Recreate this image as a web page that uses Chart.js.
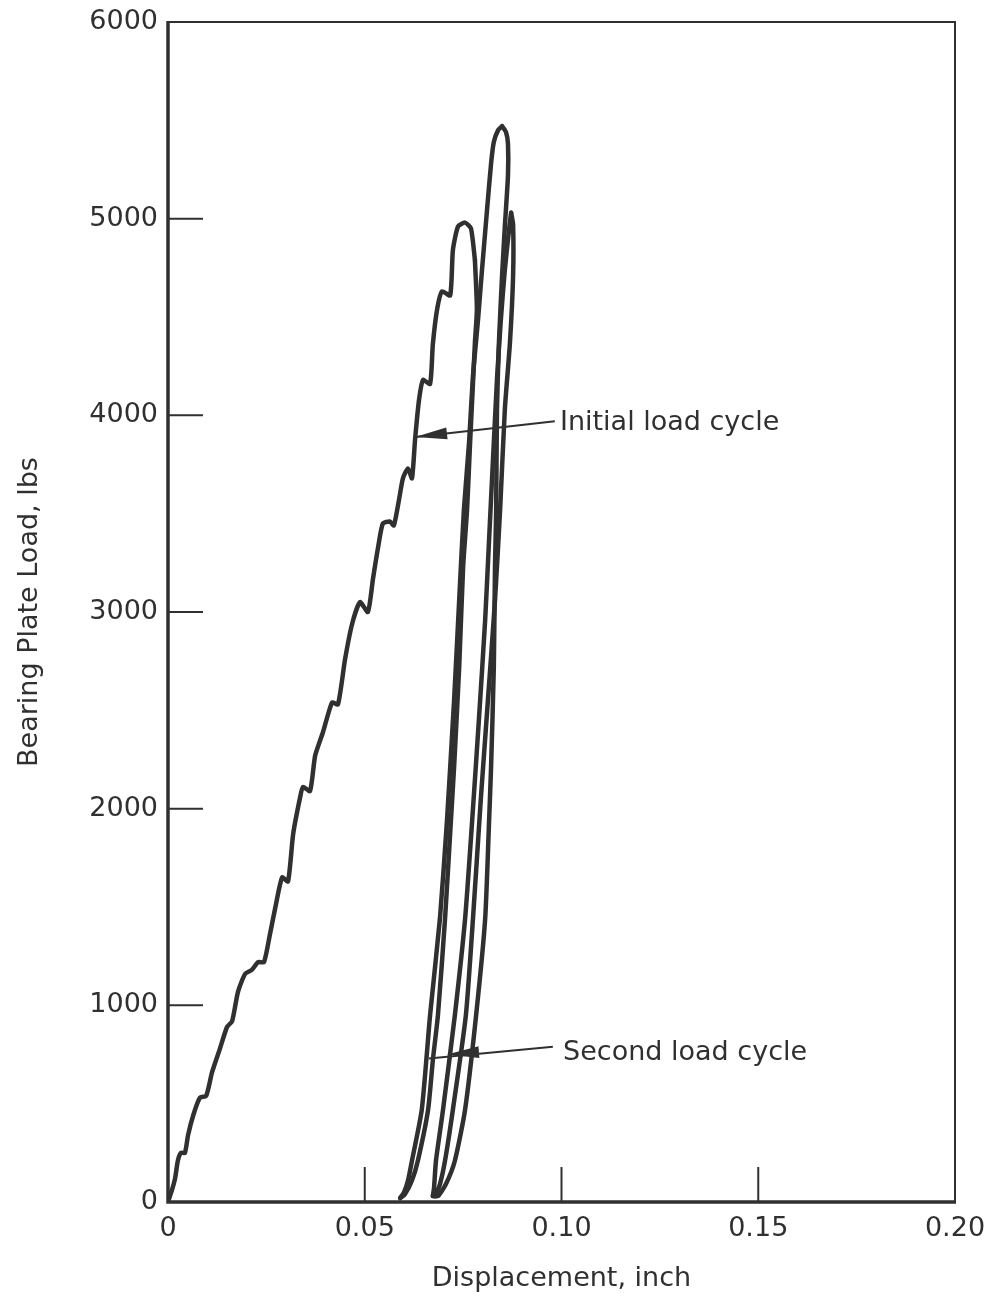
<!DOCTYPE html>
<html>
<head>
<meta charset="utf-8">
<script src="https://cdn.jsdelivr.net/npm/chart.js@4"></script>
<style>
  html, body { margin: 0; padding: 0; background: #ffffff; }
  canvas { display: block; }
</style>
</head>
<body>
<canvas id="c" width="992" height="1300"></canvas>
<script>
// ---------------- data (displacement in inch, load in lbs) ----------------
const xTickLabels = ['0', '0.05', '0.10', '0.15', '0.20'];
const yTickLabels = ['0', '1000', '2000', '3000', '4000', '5000', '6000'];

// Initial load cycle: loading branch (stepwise) up to first peak, then unloading
const load1X = [0, 0.0010, 0.0018, 0.0025, 0.0033, 0.0043, 0.0051, 0.0064, 0.0081, 0.0097, 0.0112, 0.0132, 0.0150, 0.0163, 0.0178, 0.0196, 0.0213, 0.0229, 0.0244, 0.0259, 0.0274, 0.0290, 0.0305, 0.0318, 0.0335, 0.0343, 0.0361, 0.0374, 0.0394, 0.0417, 0.0432, 0.0450, 0.0468, 0.0488, 0.0508, 0.0521, 0.0534, 0.0546, 0.0564, 0.0574, 0.0587, 0.0597, 0.0610, 0.0620, 0.0628, 0.0638, 0.0648, 0.0666, 0.0673, 0.0684, 0.0696, 0.0717, 0.0724, 0.0737, 0.0755, 0.0770, 0.0780];
const load1Y = [0, 60, 120, 210, 250, 250, 340, 440, 530, 540, 660, 780, 890, 920, 1070, 1160, 1180, 1220, 1220, 1360, 1510, 1650, 1630, 1870, 2050, 2110, 2090, 2270, 2390, 2540, 2530, 2760, 2940, 3050, 3000, 3170, 3330, 3450, 3460, 3440, 3570, 3680, 3730, 3680, 3880, 4080, 4180, 4160, 4360, 4540, 4630, 4610, 4840, 4960, 4980, 4950, 4790];
const unload1X = [0.0780, 0.0785, 0.0780, 0.0773, 0.0767, 0.0760, 0.0750, 0.0740, 0.0727, 0.0719, 0.0704, 0.0686, 0.0673, 0.0661, 0.0635, 0.0620, 0.0602, 0.0590];
const unload1Y = [4790, 4540, 4370, 4080, 3830, 3520, 3230, 2720, 2210, 1940, 1440, 950, 720, 470, 210, 110, 40, 20];

// Second load cycle: reloading to the highest peak, unloading, reloading again
const reload2X = [0.0590, 0.0600, 0.0610, 0.0620, 0.0645, 0.0666, 0.0691, 0.0709, 0.0727, 0.0740, 0.0752, 0.0765, 0.0775, 0.0788, 0.0798, 0.0811, 0.0821, 0.0828, 0.0839, 0.0849];
const reload2Y = [20, 50, 110, 210, 470, 950, 1440, 1940, 2550, 3060, 3520, 3860, 4200, 4490, 4740, 5050, 5280, 5390, 5450, 5470];
const unload2X = [0.0849, 0.0859, 0.0864, 0.0864, 0.0856, 0.0849, 0.0841, 0.0836, 0.0834, 0.0831, 0.0828, 0.0821, 0.0816, 0.0806, 0.0783, 0.0755, 0.0729, 0.0706, 0.0686, 0.0673];
const unload2Y = [5470, 5440, 5380, 5220, 4960, 4710, 4370, 4030, 3520, 3230, 2720, 2210, 1940, 1440, 950, 470, 210, 90, 30, 30];
const reload3X = [0.0673, 0.0676, 0.0681, 0.0699, 0.0729, 0.0755, 0.0773, 0.0790, 0.0806, 0.0816, 0.0826, 0.0836, 0.0846, 0.0856, 0.0867, 0.0872];
const reload3Y = [30, 70, 210, 470, 950, 1440, 1940, 2450, 2960, 3370, 3780, 4180, 4490, 4740, 4950, 5030];
const unload3X = [0.0872, 0.0877, 0.0877, 0.0869, 0.0856, 0.0844, 0.0831, 0.0813, 0.0795, 0.0775, 0.0757, 0.0724, 0.0704, 0.0691, 0.0679];
const unload3Y = [5030, 4970, 4710, 4370, 4030, 3520, 3060, 2550, 2050, 1440, 950, 470, 210, 90, 30];

// annotation anchors (data units)
const initialLabel = { text: 'Initial load cycle', x: 0.0996, y: 3960, tipX: 0.0628, tipY: 3890, tailX: 0.0983, tailY: 3970 };
const secondLabel  = { text: 'Second load cycle', x: 0.1004, y: 760, tipX: 0.0709, tipY: 750, tailX: 0.0978, tailY: 790, endX: 0.0663, endY: 730 };

// ---------------- helpers ----------------
const pts = (xs, ys) => xs.map((x, i) => ({ x: x, y: ys[i] }));
const INK = '#303030';
const FONT = "'DejaVu Sans', sans-serif";

function series(xs, ys) {
  return {
    data: pts(xs, ys),
    borderColor: INK,
    borderWidth: 4.5,
    pointRadius: 0,
    fill: false,
    tension: 0.2,
    borderJoinStyle: 'round',
    borderCapStyle: 'round'
  };
}

const framePlugin = {
  id: 'frame',
  afterDatasetsDraw(chart) {
    const { ctx, chartArea: a, scales } = chart;
    const xs = scales.x, ys = scales.y;
    ctx.save();
    ctx.strokeStyle = INK;
    ctx.lineCap = 'butt';
    // top & right (thinner)
    ctx.lineWidth = 2;
    ctx.beginPath();
    ctx.moveTo(a.left, a.top); ctx.lineTo(a.right, a.top); ctx.lineTo(a.right, a.bottom);
    ctx.stroke();
    // left & bottom (thicker)
    ctx.lineWidth = 3.5;
    ctx.beginPath();
    ctx.moveTo(a.left, a.top - 1); ctx.lineTo(a.left, a.bottom); ctx.lineTo(a.right + 1, a.bottom);
    ctx.stroke();
    // inward ticks
    ctx.lineWidth = 2;
    ctx.beginPath();
    xs.ticks.forEach((t, i) => {
      if (i === 0 || i === xs.ticks.length - 1) return;
      const px = xs.getPixelForValue(t.value);
      ctx.moveTo(px, a.bottom); ctx.lineTo(px, a.bottom - 35);
    });
    ys.ticks.forEach((t, i) => {
      if (i === 0 || i === ys.ticks.length - 1) return;
      const py = ys.getPixelForValue(t.value);
      ctx.moveTo(a.left, py); ctx.lineTo(a.left + 35, py);
    });
    ctx.stroke();

    // annotations
    function arrow(lbl) {
      const tipX = xs.getPixelForValue(lbl.tipX), tipY = ys.getPixelForValue(lbl.tipY);
      const tailX = xs.getPixelForValue(lbl.tailX), tailY = ys.getPixelForValue(lbl.tailY);
      ctx.lineWidth = 2;
      ctx.beginPath();
      ctx.moveTo(tailX, tailY);
      if (lbl.endX !== undefined) {
        ctx.lineTo(xs.getPixelForValue(lbl.endX), ys.getPixelForValue(lbl.endY));
      } else {
        ctx.lineTo(tipX, tipY);
      }
      ctx.stroke();
      const ang = Math.atan2(tailY - tipY, tailX - tipX);
      const L = 32, W = 6;
      const bx = tipX + Math.cos(ang) * L, by = tipY + Math.sin(ang) * L;
      ctx.fillStyle = INK;
      ctx.beginPath();
      ctx.moveTo(tipX, tipY);
      ctx.lineTo(bx - Math.sin(ang) * W, by + Math.cos(ang) * W);
      ctx.lineTo(bx + Math.sin(ang) * W, by - Math.cos(ang) * W);
      ctx.closePath();
      ctx.fill();
      ctx.font = '27px ' + FONT;
      ctx.textAlign = 'left';
      ctx.textBaseline = 'middle';
      ctx.fillText(lbl.text, xs.getPixelForValue(lbl.x), ys.getPixelForValue(lbl.y));
    }
    arrow(initialLabel);
    arrow(secondLabel);
    ctx.restore();
  }
};

new Chart(document.getElementById('c'), {
  type: 'line',
  data: {
    datasets: [
      series(load1X, load1Y),
      series(unload1X, unload1Y),
      series(reload2X, reload2Y),
      series(unload2X, unload2Y),
      series(reload3X, reload3Y),
      series(unload3X, unload3Y)
    ]
  },
  options: {
    responsive: false,
    devicePixelRatio: 1,
    animation: false,
    layout: { padding: { top: 22, right: 37, left: 0, bottom: 0 } },
    plugins: { legend: { display: false }, tooltip: { enabled: false } },
    scales: {
      x: {
        type: 'linear',
        min: 0, max: 0.2,
        afterFit: s => { s.height = 98; s.paddingLeft = 0; s.paddingRight = 0; },
        border: { display: false },
        grid: { display: false, drawTicks: false },
        ticks: {
          stepSize: 0.05,
          padding: 11,
          maxRotation: 0,
          color: INK,
          font: { family: FONT, size: 27 },
          callback: (v, i) => xTickLabels[i]
        },
        title: {
          display: true,
          text: 'Displacement, inch',
          color: INK,
          font: { family: FONT, size: 27 },
          padding: { top: 0, bottom: 5 }
        }
      },
      y: {
        type: 'linear',
        min: 0, max: 6000,
        afterFit: s => { s.width = 168; s.paddingTop = 0; s.paddingBottom = 0; },
        border: { display: false },
        grid: { display: false, drawTicks: false },
        ticks: {
          stepSize: 1000,
          padding: 10,
          color: INK,
          font: { family: FONT, size: 27 },
          callback: (v, i) => yTickLabels[i]
        },
        title: {
          display: true,
          text: 'Bearing Plate Load, lbs',
          color: INK,
          font: { family: FONT, size: 27 },
          padding: { top: 14, bottom: 0 }
        }
      }
    }
  },
  plugins: [framePlugin]
});
</script>
</body>
</html>
